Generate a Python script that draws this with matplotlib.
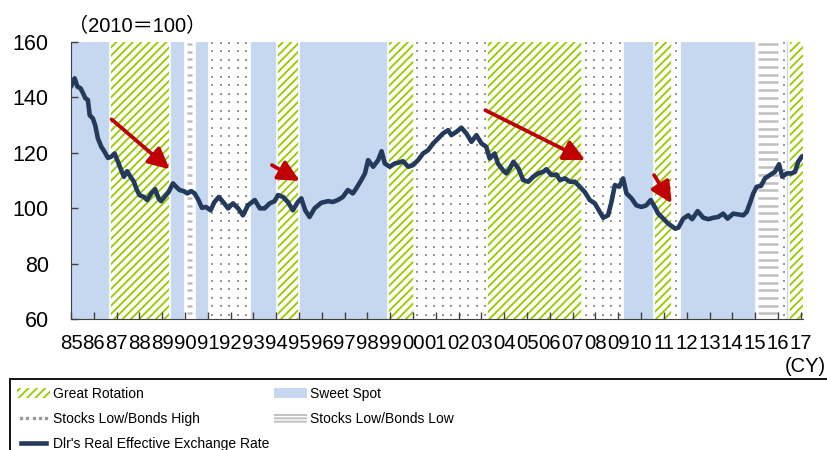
import matplotlib
matplotlib.use('Agg')
import numpy as np
import matplotlib.pyplot as plt
from matplotlib.patches import Patch, Rectangle
from matplotlib.lines import Line2D
from matplotlib import font_manager

# Dollar real effective exchange rate (2010 = 100), decimal years
years = [1985.00, 1985.16, 1985.28, 1985.42, 1985.53, 1985.63, 1985.74, 1985.82, 1985.96,
         1986.06, 1986.18, 1986.33, 1986.47, 1986.62, 1986.76, 1986.91,
         1987.06, 1987.20, 1987.32, 1987.46, 1987.61, 1987.76, 1987.86,
         1988.00, 1988.20, 1988.34, 1988.52, 1988.69, 1988.84, 1988.95,
         1989.10, 1989.28, 1989.47, 1989.61, 1989.76, 1989.95,
         1990.10, 1990.27, 1990.42, 1990.59, 1990.74, 1990.92,
         1991.12, 1991.29, 1991.48, 1991.67, 1991.89,
         1992.10, 1992.33, 1992.54, 1992.76,
         1993.06, 1993.28, 1993.49, 1993.71, 1993.93,
         1994.08, 1994.30, 1994.51, 1994.73, 1994.95,
         1995.10, 1995.27, 1995.46, 1995.68, 1995.97,
         1996.27, 1996.48, 1996.70, 1996.92,
         1997.14, 1997.36, 1997.51, 1997.73, 1997.89,
         1998.03, 1998.25, 1998.47, 1998.62, 1998.76, 1998.98,
         1999.20, 1999.42, 1999.56, 1999.79,
         2000.00, 2000.22, 2000.44, 2000.66, 2000.88,
         2001.10, 2001.31, 2001.54, 2001.68, 2001.90,
         2002.12, 2002.34, 2002.56, 2002.78,
         2003.00, 2003.21, 2003.36, 2003.58, 2003.72, 2003.94,
         2004.09, 2004.25, 2004.40, 2004.62, 2004.83,
         2005.05, 2005.27, 2005.49, 2005.71, 2005.85,
         2006.07, 2006.29, 2006.44, 2006.66, 2006.88,
         2007.10, 2007.31, 2007.53, 2007.75, 2007.97,
         2008.15, 2008.34, 2008.55, 2008.70, 2008.85,
         2009.04, 2009.21, 2009.36, 2009.58, 2009.79,
         2010.01, 2010.23, 2010.42, 2010.60, 2010.75, 2010.90,
         2011.19, 2011.49, 2011.63, 2011.85,
         2012.07, 2012.24, 2012.48, 2012.73, 2012.95,
         2013.17, 2013.38, 2013.60, 2013.79,
         2014.04, 2014.26, 2014.48, 2014.63, 2014.77, 2014.92,
         2015.07, 2015.26, 2015.43, 2015.65, 2015.87,
         2016.05, 2016.19, 2016.38, 2016.60, 2016.75, 2016.89,
         2017.04, 2017.10]
reer = [143.8, 146.8, 143.8, 143.2, 141.4, 139.6, 139.0, 133.5, 132.3,
        129.9, 125.1, 122.1, 120.3, 118.1, 118.5, 119.7,
        116.7, 113.7, 111.3, 113.3, 111.3, 109.5, 107.1,
        104.7, 104.0, 102.9, 105.3, 106.8, 103.5, 102.5,
        104.0, 105.8, 108.9, 107.7, 106.5, 106.1,
        105.3, 106.1, 105.3, 102.9, 100.1, 100.4,
        99.2, 102.2, 104.0, 102.2, 99.9,
        101.7, 99.9, 97.4, 101.0,
        102.9, 99.9, 99.9, 101.7, 102.5,
        104.7, 104.0, 102.2, 99.2, 102.2,
        103.5, 99.2, 96.8, 99.9, 101.9,
        102.5, 102.2, 102.9, 104.0,
        106.5, 105.3, 107.1, 110.1, 112.5,
        117.3, 114.9, 117.3, 120.5, 116.1, 114.9,
        116.1, 116.5, 116.9, 114.9,
        115.5, 117.3, 119.7, 120.9, 123.3,
        125.1, 126.9, 128.1, 126.3, 127.5,
        129.0, 126.9, 123.9, 126.3,
        123.3, 122.1, 117.9, 119.7, 116.1, 113.7,
        112.5, 114.3, 116.7, 114.3, 110.1,
        109.5, 111.3, 112.5, 113.1, 114.0,
        111.9, 112.1, 110.1, 110.7, 109.5,
        109.5, 107.7, 105.8, 102.9, 101.7,
        99.2, 96.5, 97.4, 102.2, 108.3,
        107.7, 110.7, 105.3, 103.5, 101.0,
        100.4, 101.0, 102.9, 100.4, 98.0, 96.8,
        94.4, 92.6, 92.9, 96.2,
        97.4, 96.0, 98.9, 96.5, 96.0,
        96.5, 96.8, 98.0, 96.2,
        98.0, 97.7, 97.4, 98.6, 101.7, 105.3,
        107.7, 108.0, 110.7, 111.9, 113.1,
        115.8, 111.3, 112.5, 112.5, 113.1, 116.7,
        118.5, 118.8]

# market regimes as (start, end) periods
sweet_spot = [(1985.0, 1986.7), (1989.33, 1990.0), (1990.42, 1991.04), (1992.83, 1994.04),
              (1995.0, 1998.88), (2009.2, 2010.57), (2011.7, 2015.04), (2016.35, 2016.5)]
great_rotation = [(1986.7, 1989.33), (1994.04, 1995.0), (1998.88, 2000.04),
                  (2003.25, 2007.42), (2010.57, 2011.36), (2016.5, 2017.1)]
stocks_low_bonds_high = [(1991.04, 1992.83), (2000.04, 2003.25), (2007.42, 2009.2),
                         (2011.36, 2011.7), (2016.1, 2016.35)]
stocks_low_bonds_low = [(1990.0, 1990.42), (2015.04, 2016.1)]

# dollar-weakening arrows: (tail, head)
arrows = [((1986.78, 132.0), (1989.33, 114.0)),
          ((1993.81, 115.5), (1995.03, 109.8)),
          ((2003.17, 135.3), (2007.55, 117.3)),
          ((2010.57, 111.9), (2011.34, 101.7))]

BLUE = '#C5D8EF'
GREEN = '#99CC00'
GREY = '#999999'
DASH = '#BFBFBF'
NAVY = '#233A5C'
RED = '#C00000'
SPINE = '#404040'

XMIN, XMAX, YMIN, YMAX = 1985, 2017.1, 60, 160

plt.rcParams['font.family'] = ['Liberation Sans', 'Noto Sans CJK JP']
plt.rcParams['hatch.linewidth'] = 1.35

names = {f.name for f in font_manager.fontManager.ttflist}
if 'Liberation Sans Narrow' in names:
    leg_family, leg_fs, leg_space = 'Liberation Sans Narrow', 12, 0.5
else:
    leg_family, leg_fs, leg_space = 'Liberation Sans', 10, 0.8
leg_px = leg_fs * 100 / 72

W, H = 828, 450
fig = plt.figure(figsize=(W / 100, H / 100), dpi=100)
ax_left, ax_right, ax_top, ax_bottom = 71, 803, 41.7, 319
ax = fig.add_axes([ax_left / W, 1 - ax_bottom / H, (ax_right - ax_left) / W, (ax_bottom - ax_top) / H])

# pixel size of one year / one index point, for the fill patterns
px_x = (ax_right - ax_left) / (XMAX - XMIN)
px_y = (ax_bottom - ax_top) / (YMAX - YMIN)

for a, b in sweet_spot:
    ax.axvspan(a, b, facecolor=BLUE, edgecolor='none', zorder=0.5)
for a, b in great_rotation:
    ax.axvspan(a, b, facecolor='white', edgecolor=GREEN, hatch='////', linewidth=0, zorder=0.5)

# dotted grid for stocks low / bonds high
dx, dy = 8.5 / px_x, 8.5 / px_y
dot_rows = np.arange(YMIN + dy * 0.5, YMAX, dy)
for a, b in stocks_low_bonds_high:
    ax.axvspan(a, b, facecolor='white', edgecolor='none', zorder=0.5)
    cols = np.arange(a + dx * 0.4, b - 0.02, dx)
    gx, gy = np.meshgrid(cols, dot_rows)
    ax.scatter(gx.ravel(), gy.ravel(), s=3.2, marker='s', color=GREY, linewidths=0, zorder=0.55)

# horizontal grey dashes for stocks low / bonds low
dash_rows = np.arange(YMIN + 2.0, YMAX, 7.7 / px_y)
for a, b in stocks_low_bonds_low:
    ax.axvspan(a, b, facecolor='white', edgecolor='none', zorder=0.5)
    ax.hlines(dash_rows, a + 1.5 / px_x, b - 2.5 / px_x, color=DASH, lw=1.8, zorder=0.55)

# thin white gaps between neighbouring regimes
edges = sorted({x for spans in (sweet_spot, great_rotation, stocks_low_bonds_high, stocks_low_bonds_low)
                for span in spans for x in span})
for x in edges[1:-1]:
    ax.axvline(x, color='white', lw=1.2, zorder=0.6)

ax.plot(years, reer, color=NAVY, lw=3.3, solid_joinstyle='round', solid_capstyle='round', zorder=3)

for tail, head in arrows:
    ax.annotate('', xy=head, xytext=tail, zorder=4,
                arrowprops=dict(arrowstyle='-|>,head_length=0.85,head_width=0.42', color=RED,
                                lw=2.7, mutation_scale=15, shrinkA=0, shrinkB=0))

ax.set_xlim(XMIN, XMAX)
ax.set_ylim(YMIN, YMAX)
ax.set_xticks(range(1985, 2018))
ax.set_xticklabels([f'{y % 100:02d}' for y in range(1985, 2018)])
ax.set_yticks(range(60, 161, 20))
ax.tick_params(direction='in', length=5, color=SPINE, width=1)
ax.tick_params(axis='x', labelsize=14.7, pad=11)
ax.tick_params(axis='y', labelsize=15.5, pad=16)
for side in ('top', 'right'):
    ax.spines[side].set_visible(False)
for side in ('left', 'bottom'):
    ax.spines[side].set_color(SPINE)
    ax.spines[side].set_zorder(5)

fig.text(68 / W, 1 - 26 / H, '（2010＝100）', ha='left', va='center', fontsize=14.5)
fig.text(785 / W, 1 - 367 / H, '(CY)', ha='left', va='center', fontsize=14.5)

# legend box running off the bottom and right of the figure
fig.patches.append(Rectangle((10 / W, -0.1), 1.0, 1 - 379 / H + 0.1, transform=fig.transFigure,
                             fill=False, edgecolor='black', lw=1.3))

left_handles = [Patch(facecolor='white', edgecolor=GREEN, hatch='////', linewidth=0),
                Line2D([], [], ls='none', marker='s', ms=1.7, color=GREY),
                Line2D([], [], color=NAVY, lw=3.3)]
left_labels = ['Great Rotation', 'Stocks Low/Bonds High', "Dlr's Real Effective Exchange Rate"]
right_handles = [Patch(facecolor=BLUE, edgecolor='none'),
                 Patch(facecolor='white', edgecolor=DASH, hatch='-----', linewidth=0)]
right_labels = ['Sweet Spot', 'Stocks Low/Bonds Low']

leg_kw = dict(loc='upper left', frameon=False, borderpad=0, borderaxespad=0,
              handlelength=33 / leg_px, handletextpad=3 / leg_px, labelspacing=leg_space,
              numpoints=5, prop={'family': leg_family, 'size': leg_fs})
fig.legend(left_handles, left_labels, bbox_to_anchor=(17 / W, 1 - 387 / H), **leg_kw)
fig.legend(right_handles, right_labels, bbox_to_anchor=(274 / W, 1 - 387 / H), **leg_kw)

fig.savefig('out.png', dpi=100)
